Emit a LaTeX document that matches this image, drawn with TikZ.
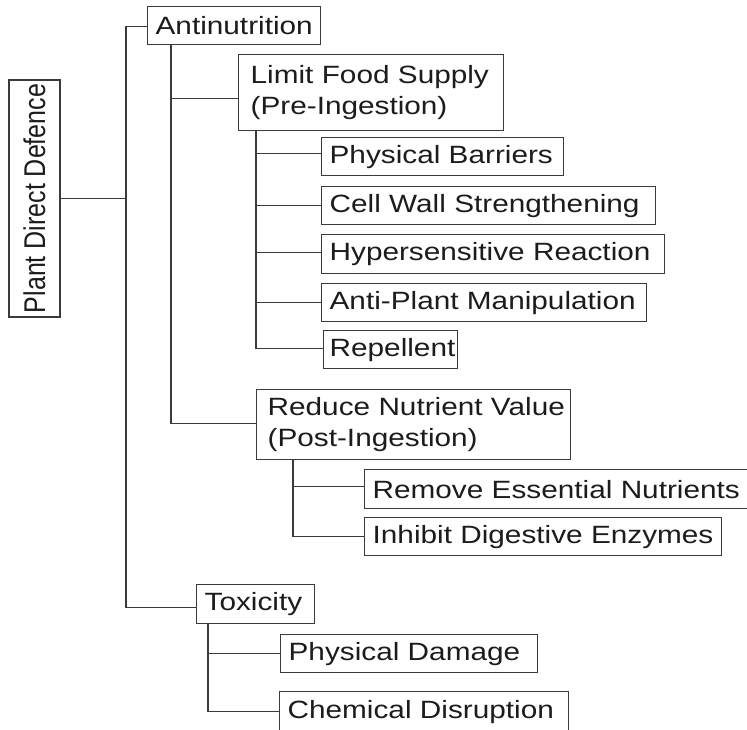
\documentclass[tikz,border=0pt]{standalone}
\usepackage{fontspec}
\setmainfont{Liberation Sans}
\newfontfamily\hfont[FakeStretch=1.19]{Liberation Sans}
\newfontfamily\vfont[FakeStretch=0.833]{Liberation Sans}
\definecolor{lineC}{HTML}{3A3A3A}
\definecolor{textC}{HTML}{1C1C1C}
\newcommand\nb[1]{\mbox{#1}}
\tikzset{
  bx/.style={draw=lineC, line width=1.3pt, inner xsep=8pt, inner ysep=0pt,
    align=left, anchor=north west, text=textC,
    font=\hfont\fontsize{25}{31}\selectfont},
  conn/.style={draw=lineC, line width=1.1pt}
}
\begin{document}
\begin{tikzpicture}[x=1pt,y=-1pt]
\useasboundingbox (0,0) rectangle (747,729);
\clip (0,0) rectangle (747,729);
\fill[white] (0,0) rectangle (747,729);

% root
\node[draw=lineC, line width=1.3pt, rotate=90, minimum width=237pt, minimum height=51pt,
      inner sep=0pt, text=textC, font=\vfont\fontsize{30}{34}\selectfont]
      (pdd) at (34.5,198.5) {Plant Direct Defence};

% level 1
\node[bx, minimum width=173pt, minimum height=38pt, text width=157pt] (anti) at (147,6) {\nb{Antinutrition}};
\node[bx, minimum width=118pt, minimum height=39pt, text width=102pt] (tox) at (196,584) {\nb{Toxicity}};

% level 2
\node[bx, minimum width=265pt, minimum height=76pt, text width=241pt, inner xsep=12pt] (lim) at (238,54) {\nb{Limit Food Supply}\\\nb{(Pre-Ingestion)}};
\node[bx, minimum width=314pt, minimum height=70pt, text width=292pt, inner xsep=11pt] (red) at (256,389) {\nb{Reduce Nutrient Value}\\\nb{(Post-Ingestion)}};

% level 3 under Limit Food Supply
\node[bx, minimum width=242pt, minimum height=38pt, text width=226pt] (pb) at (321,137) {\nb{Physical Barriers}};
\node[bx, minimum width=334pt, minimum height=38pt, text width=318pt] (cw) at (321,186) {\nb{Cell Wall Strengthening}};
\node[bx, minimum width=343pt, minimum height=39pt, text width=327pt] (hr) at (321,234) {\nb{Hypersensitive Reaction}};
\node[bx, minimum width=325pt, minimum height=38pt, text width=309pt] (ap) at (321,283) {\nb{Anti-Plant Manipulation}};
\node[bx, minimum width=134pt, minimum height=38pt, text width=122pt, inner xsep=6pt] (rep) at (323,330) {\nb{Repellent}};

% level 3 under Reduce Nutrient Value
\node[bx, minimum width=400pt, minimum height=39pt, text width=384pt] (ren) at (364,469) {\nb{Remove Essential Nutrients}};
\node[bx, minimum width=357pt, minimum height=38pt, text width=341pt] (ide) at (364,517) {\nb{Inhibit Digestive Enzymes}};

% level 3 under Toxicity
\node[bx, minimum width=257pt, minimum height=38pt, text width=241pt] (pd) at (280,634) {\nb{Physical Damage}};
\node[bx, minimum width=289pt, minimum height=40pt, text width=273pt] (cd) at (279,691) {\nb{Chemical Disruption}};

% spine coordinates
\coordinate (s0) at (126,26);
\coordinate (s1) at (171,44);
\coordinate (s2) at (256,130);
\coordinate (s3) at (293,459);
\coordinate (s4) at (208,623);

% root connectors
\draw[conn] (pdd.south) -- (pdd.south -| s0);
\draw[conn] ([yshift=-1pt]anti.west) -- ([yshift=-1pt]anti.west -| s0) |- ([yshift=-3.5pt]tox.west);

% Antinutrition children
\draw[conn] (s1) |- ([yshift=1pt]red.west);
\draw[conn] ([yshift=-6pt]lim.west) -- ([yshift=-6pt]lim.west -| s1);

% Limit Food Supply children
\draw[conn] (s2) |- ([yshift=1pt]rep.west);
\draw[conn] ([yshift=3pt]pb.west) -- ([yshift=3pt]pb.west -| s2);
\draw[conn] (cw.west) -- (cw.west -| s2);
\draw[conn] ([yshift=1.5pt]hr.west) -- ([yshift=1.5pt]hr.west -| s2);
\draw[conn] (ap.west) -- (ap.west -| s2);

% Reduce Nutrient Value children
\draw[conn] (s3) |- (ide.west);
\draw[conn] ([yshift=2.5pt]ren.west) -- ([yshift=2.5pt]ren.west -| s3);

% Toxicity children
\draw[conn] (s4) |- (cd.west);
\draw[conn] (pd.west) -- (pd.west -| s4);
\end{tikzpicture}
\end{document}
